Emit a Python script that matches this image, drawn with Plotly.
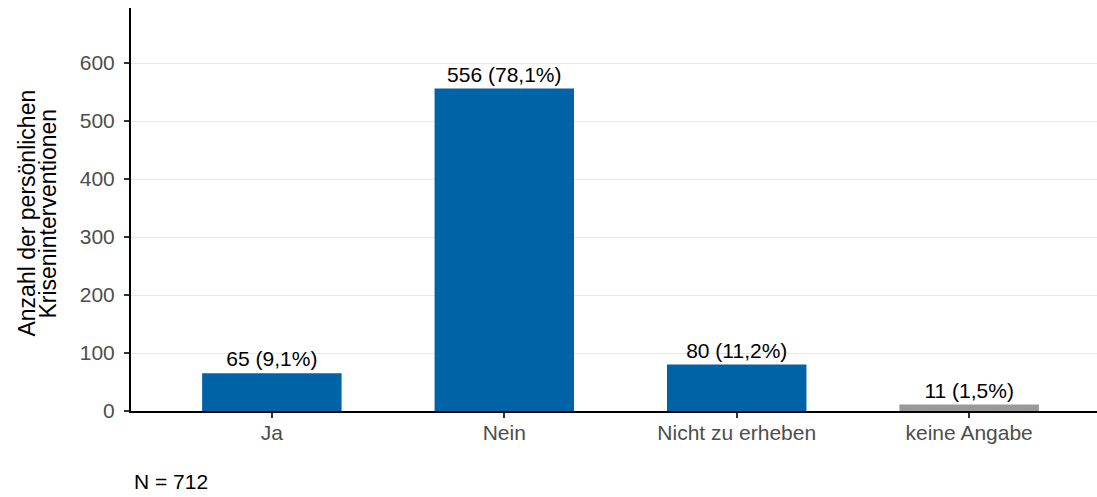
import plotly.graph_objects as go

categories = ["Ja", "Nein", "Nicht zu erheben", "keine Angabe"]
values = [65, 556, 80, 11]
labels = ["65 (9,1%)", "556 (78,1%)", "80 (11,2%)", "11 (1,5%)"]
colors = ["#0063a6", "#0063a6", "#0063a6", "#999999"]
y_ticks = [0, 100, 200, 300, 400, 500, 600]
title_lines = ["Anzahl der persönlichen", "Kriseninterventionen"]
note = "N = 712"

FONT = "Liberation Sans, Arial, sans-serif"

fig = go.Figure()
fig.add_trace(go.Bar(
    x=categories, y=values, text=labels, textposition="outside",
    marker=dict(color=colors, line=dict(width=0)),
    width=0.6, cliponaxis=False,
    textfont=dict(family=FONT, size=21, color="#000000"),
))

annotations = [
    dict(text=title_lines[0], xref="paper", yref="paper", x=0, y=0.49,
         xshift=-104, xanchor="center", yanchor="middle", textangle=-90,
         showarrow=False, font=dict(family=FONT, size=23, color="#000000")),
    dict(text=title_lines[1], xref="paper", yref="paper", x=0, y=0.49,
         xshift=-83, xanchor="center", yanchor="middle", textangle=-90,
         showarrow=False, font=dict(family=FONT, size=23, color="#000000")),
    dict(text=note, xref="paper", yref="paper", x=0, y=-0.209,
         xshift=1, xanchor="left", yanchor="bottom", showarrow=False,
         font=dict(family=FONT, size=21, color="#000000")),
]

fig.update_layout(
    width=1097, height=497,
    margin=dict(l=131, r=0, t=8, b=86),
    plot_bgcolor="white", paper_bgcolor="white",
    font=dict(family=FONT, size=21, color="#4d4d4d"),
    showlegend=False,
    xaxis=dict(
        range=[-0.606, 3.55], showgrid=False, showline=True, linecolor="#000000",
        linewidth=2, ticks="outside", ticklen=5, tickwidth=2, tickcolor="#333333",
        tickfont=dict(family=FONT, size=21, color="#4d4d4d"), zeroline=False,
        ticklabelstandoff=-3,
    ),
    yaxis=dict(
        range=[0, 695], tickvals=y_ticks, showgrid=True, gridcolor="#e8e8e8",
        gridwidth=1, showline=True, linecolor="#000000", linewidth=2,
        ticks="outside", ticklen=5, tickwidth=2, tickcolor="#333333",
        tickfont=dict(family=FONT, size=21, color="#4d4d4d"), zeroline=False,
        ticklabelstandoff=5,
    ),
    annotations=annotations,
)

fig.write_html("out.html", config={"displayModeBar": False},
               post_script="document.body.style.margin='0';")
